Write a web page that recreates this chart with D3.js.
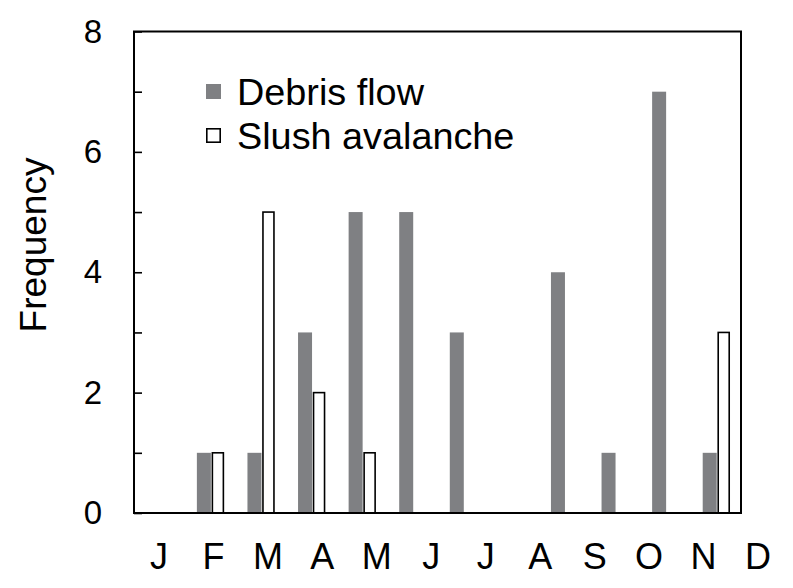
<!DOCTYPE html>
<html>
<head>
<meta charset="utf-8">
<script src="https://cdn.jsdelivr.net/npm/d3@7"></script>
<style>
    body { margin: 0; background: #fff; }
    text { font-family: 'Liberation Sans', Arial, sans-serif; fill: #000; }
</style>
</head>
<body>
<div id="chart"></div>
<script>
// Monthly frequency of debris flows and slush avalanches
const months = ['Jan', 'Feb', 'Mar', 'Apr', 'May', 'Jun', 'Jul', 'Aug', 'Sep', 'Oct', 'Nov', 'Dec'];
const monthLabels = ['J', 'F', 'M', 'A', 'M', 'J', 'J', 'A', 'S', 'O', 'N', 'D'];
const debrisFlow = [0, 1, 1, 3, 5, 5, 3, 0, 4, 1, 7, 1];
const slushAvalanche = [0, 1, 5, 2, 1, 0, 0, 0, 0, 0, 0, 3];
const yTicks = [0, 1, 2, 3, 4, 5, 6, 7, 8];
const yLabels = [0, 2, 4, 6, 8];

const width = 793;
const height = 588;
const plot = { left: 134, right: 741, top: 31.5, bottom: 513 };

const svg = d3.select('#chart').append('svg')
    .attr('width', width)
    .attr('height', height);

const x = d3.scaleBand()
    .domain(months)
    .range([plot.left, plot.right]);

// the month letters were laid out on their own, a bit wider than the plot
const xLabel = d3.scalePoint()
    .domain(months)
    .range([159, 758]);

const y = d3.scaleLinear()
    .domain([0, 8])
    .range([plot.bottom, plot.top]);

const rows = months.map((m, i) => ({ month: m, debris: debrisFlow[i], slush: slushAvalanche[i] }));

// bars
svg.append('g').selectAll('rect')
    .data(rows.filter(d => d.debris > 0))
    .enter().append('rect')
    .attr('x', d => x(d.month) + x.bandwidth() / 2 - 13)
    .attr('y', d => y(d.debris))
    .attr('width', 14)
    .attr('height', d => y(0) - y(d.debris))
    .style('fill', '#7f8083');

svg.append('g').selectAll('rect')
    .data(rows.filter(d => d.slush > 0))
    .enter().append('rect')
    .attr('x', d => x(d.month) + x.bandwidth() / 2 + 2.5)
    .attr('y', d => y(d.slush))
    .attr('width', 11)
    .attr('height', d => y(0) - y(d.slush))
    .style('fill', '#fff')
    .style('stroke', '#000')
    .style('stroke-width', 1.6);

// inward ticks on the left axis
const tickAxis = svg.append('g')
    .attr('transform', `translate(${plot.left},0)`)
    .call(d3.axisRight(y).tickValues(yTicks).tickSize(8).tickFormat(''));
tickAxis.select('.domain').remove();
tickAxis.selectAll('line').style('stroke', '#000').style('stroke-width', 1.6);

const labelAxis = svg.append('g')
    .attr('transform', `translate(${plot.left},0)`)
    .call(d3.axisLeft(y).tickValues(yLabels).tickSize(0).tickPadding(32).tickFormat(d3.format('d')));
labelAxis.select('.domain').remove();
labelAxis.selectAll('text')
    .style('font-family', "'Liberation Sans', Arial, sans-serif")
    .style('font-size', '33px')
    .attr('fill', '#000');

// plot frame
svg.append('rect')
    .attr('x', plot.left)
    .attr('y', plot.top)
    .attr('width', plot.right - plot.left)
    .attr('height', plot.bottom - plot.top)
    .style('fill', 'none')
    .style('stroke', '#000')
    .style('stroke-width', 2);

// month letters
svg.append('g').selectAll('text')
    .data(months)
    .enter().append('text')
    .attr('x', d => xLabel(d))
    .attr('y', 569)
    .style('text-anchor', 'middle')
    .style('font-size', '36px')
    .text((d, i) => monthLabels[i]);

svg.append('text')
    .attr('transform', 'translate(46,245) rotate(-90)')
    .style('text-anchor', 'middle')
    .style('font-size', '37px')
    .text('Frequency');

// legend
const legend = svg.append('g').attr('transform', 'translate(206,84)');
const legendItems = [
    { name: 'Debris flow', fill: '#7f8083', stroke: 'none' },
    { name: 'Slush avalanche', fill: '#fff', stroke: '#000' }
];
const item = legend.selectAll('.legend-item')
    .data(legendItems)
    .enter().append('g')
    .attr('class', 'legend-item')
    .attr('transform', (d, i) => `translate(0,${i * 44})`);
item.append('rect')
    .attr('x', d => (d.stroke === 'none' ? 0 : 0.8))
    .attr('y', d => (d.stroke === 'none' ? 0 : 0.8))
    .attr('width', d => (d.stroke === 'none' ? 15 : 13.4))
    .attr('height', d => (d.stroke === 'none' ? 15 : 13.4))
    .style('fill', d => d.fill)
    .style('stroke', d => d.stroke)
    .style('stroke-width', 1.6);
// the legend lettering in the original is a touch wider than plain Arial
item.append('text')
    .attr('transform', 'translate(31,21) scale(1.05,1)')
    .style('font-size', '36px')
    .text(d => d.name);
</script>
</body>
</html>
